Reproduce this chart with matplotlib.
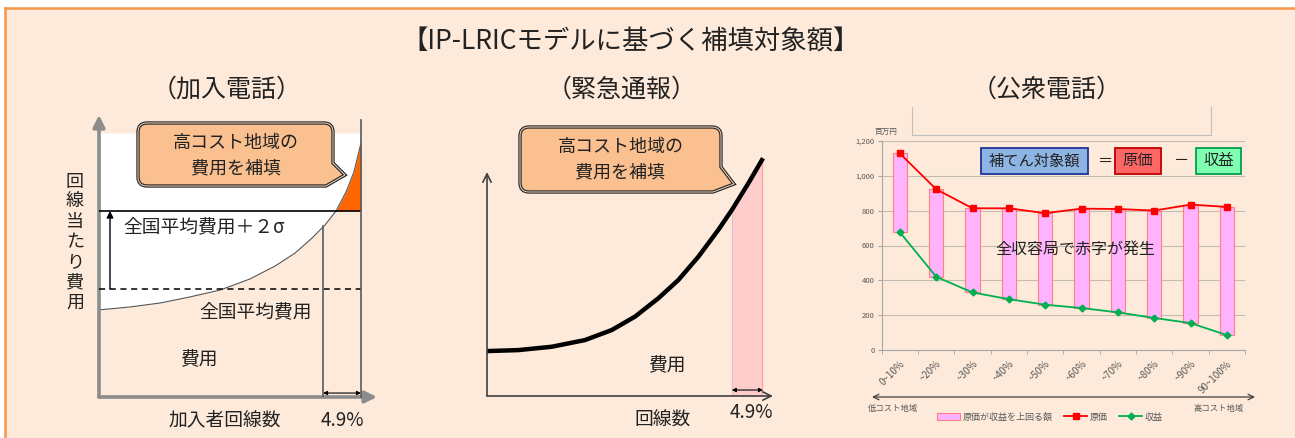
import numpy as np
import matplotlib.pyplot as plt
from matplotlib.patches import Rectangle, PathPatch
from matplotlib.path import Path

plt.rcParams['font.family'] = ['Noto Sans CJK JP', 'DejaVu Sans']

# ---- data -------------------------------------------------------------
# 公衆電話 (百万円)
categories = ['0~10%', '~20%', '~30%', '~40%', '~50%', '~60%', '~70%', '~80%', '~90%', '90~100%']
cost = [1127, 922, 813, 813, 785, 811, 809, 800, 834, 821]
revenue = [676, 421, 331, 293, 261, 242, 217, 185, 156, 87]

# 加入電話 (schematic, share of lines % vs cost index)
sub_share = [0, 11.8, 23.3, 34.7, 46.2, 57.6, 67.2, 74.8, 81.3, 86.3, 90.5, 94.3, 97.3, 100]
sub_cost = [33.0, 34.1, 35.6, 37.9, 40.5, 44.7, 49.6, 54.5, 60.2, 65.2, 70.5, 77.7, 85.2, 96.2]
avg_level = 40.9
sigma_level = 70.5
sub_cut = 85.5
sub_cut_top = 64.7

# 緊急通報 (schematic)
emg_share = [0, 11.3, 23.4, 35.5, 45.2, 53.6, 62.1, 69.3, 76.6, 83.8, 88.7, 94.7, 100]
emg_cost = [18.8, 19.2, 20.6, 23.4, 27.6, 33.2, 40.9, 48.5, 58.3, 69.5, 77.8, 89.0, 99.5]
emg_cut = 88.7

PEACH = '#FDEADA'
ORANGE = '#F79646'
TXT = '#222222'
GRAY = '#595959'

W, H = 1295, 438
fig = plt.figure(figsize=(W / 100, H / 100), dpi=100)
fig.patch.set_facecolor('white')


def pax(x0, y0, x1, y1, z):
    ax = fig.add_axes([x0 / W, 1 - y1 / H, (x1 - x0) / W, (y1 - y0) / H], zorder=z)
    ax.patch.set_visible(False)
    return ax


bg = pax(0, 0, W, H, 0)
bg.set_xlim(0, W)
bg.set_ylim(H, 0)
bg.axis('off')
bg.add_patch(Rectangle((5, 8), W, H, fc=PEACH, ec='none'))
bg.plot([5, 5], [8, H], color=ORANGE, lw=1.8)
bg.plot([5, W], [8, 8], color=ORANGE, lw=1.8)

fg = pax(0, 0, W, H, 10)
fg.set_xlim(0, W)
fg.set_ylim(H, 0)
fg.axis('off')

# titles
fg.text(631, 42, '【IP-LRICモデルに基づく補填対象額】', fontsize=19, ha='center', va='center', color=TXT)
fg.text(227, 90, '（加入電話）', fontsize=18, ha='center', va='center', color=TXT)
fg.text(622, 90, '（緊急通報）', fontsize=18, ha='center', va='center', color=TXT)
fg.text(1047, 90, '（公衆電話）', fontsize=18, ha='center', va='center', color=TXT)


def bubble(x0, y0, x1, y1, ty, tx, tip, r=9):
    M, L, C, Z = Path.MOVETO, Path.LINETO, Path.CURVE3, Path.CLOSEPOLY
    verts = [(x0 + r, y0), (x1 - r, y0), (x1, y0), (x1, y0 + r), (x1, ty), tip, (tx, y1),
             (x0 + r, y1), (x0, y1), (x0, y1 - r), (x0, y0 + r), (x0, y0), (x0 + r, y0), (x0 + r, y0)]
    codes = [M, L, C, C, L, L, L, L, C, C, L, C, C, Z]
    p = Path(verts, codes)
    fg.add_patch(PathPatch(p, fc='#FAC090', ec='#262626', lw=2.4, zorder=5))
    fg.add_patch(PathPatch(p, fc='none', ec='#F6DCC6', lw=0.7, zorder=6))
    cx = (x0 + x1) / 2
    fg.text(cx, y0 + 20, '高コスト地域の', fontsize=13, ha='center', va='center', color=TXT, zorder=7)
    fg.text(cx, y0 + 45, '費用を補填', fontsize=13, ha='center', va='center', color=TXT, zorder=7)


# ---- panel 1: 加入電話 ----------------------------------------------------
a1 = pax(99, 133, 361, 397, 2)
a1.set_xlim(0, 100)
a1.set_ylim(0, 100)
a1.axis('off')
s = np.array(sub_share)
c = np.array(sub_cost)
a1.fill_between(s, c, 100, color='white', lw=0, zorder=1)
hi = s >= 90.5
a1.fill_between(s[hi], sigma_level, c[hi], color='#FF6600', lw=0, zorder=2)
a1.plot(s, c, color='#555555', lw=0.8, zorder=3, solid_joinstyle='round')
a1.plot([0, 100], [sigma_level] * 2, color='black', lw=1.2, zorder=4)
a1.plot([0, 100], [avg_level] * 2, color='black', lw=1.1, ls=(0, (4, 3)), zorder=4)
a1.plot([100, 100], [0, 104.9], color=GRAY, lw=1.2, clip_on=False, zorder=4)
a1.plot([sub_cut] * 2, [0, sub_cut_top], color=GRAY, lw=1.2, zorder=4)
a1.annotate('', xy=(4.2, sigma_level), xytext=(4.2, avg_level),
            arrowprops=dict(arrowstyle='-|>', color='black', lw=1, mutation_scale=10, shrinkA=0, shrinkB=0))
a1.annotate('', xy=(0, 106.8), xytext=(0, 0), annotation_clip=False,
            arrowprops=dict(arrowstyle='-|>,head_width=0.35,head_length=0.7', color='#8C8C8C', lw=2.6,
                            mutation_scale=10, shrinkA=0, shrinkB=0))
a1.annotate('', xy=(106.1, 0), xytext=(0, 0), annotation_clip=False,
            arrowprops=dict(arrowstyle='-|>,head_width=0.35,head_length=0.7', color='#8C8C8C', lw=2.6,
                            mutation_scale=10, shrinkA=0, shrinkB=0))
a1.annotate('', xy=(sub_cut, 1.5), xytext=(100, 1.5),
            arrowprops=dict(arrowstyle='<|-|>', color='black', lw=0.8, mutation_scale=6, shrinkA=0, shrinkB=0))

fg.text(123, 228, '全国平均費用＋２σ', fontsize=13.5, ha='left', va='center', color=TXT)
fg.text(256, 313, '全国平均費用', fontsize=13.5, ha='center', va='center', color=TXT)
fg.text(199, 360, '費用', fontsize=13.5, ha='center', va='center', color=TXT)
fg.text(225, 420, '加入者回線数', fontsize=13.5, ha='center', va='center', color=TXT)
fg.text(342, 420, '4.9%', fontsize=13.5, ha='center', va='center', color=TXT)
for i, ch in enumerate('回線当たり費用'):
    fg.text(75, 182 + i * 20.1, ch, fontsize=13, ha='center', va='center', color=TXT)
bubble(138, 123, 333, 186, 163, 326, (345, 175))

# ---- panel 2: 緊急通報 ----------------------------------------------------
a2 = pax(487, 157, 763, 396, 2)
a2.set_xlim(0, 100)
a2.set_ylim(0, 100)
a2.axis('off')
es = np.array(emg_share)
ec = np.array(emg_cost)
k = es >= emg_cut
a2.fill_between(es[k], 0, ec[k], color='#FFCCCC', lw=0, zorder=1)
a2.plot([emg_cut] * 2, [0, ec[k][0]], color='#D9C3C3', lw=0.8, zorder=2)
a2.plot([100, 100], [0, ec[-1]], color='#FF0000', lw=1, zorder=2)
a2.plot(es, ec, color='black', lw=3.2, solid_capstyle='butt', solid_joinstyle='round', zorder=3, clip_on=False)
a2.annotate('', xy=(0, 93.7), xytext=(0, 0), annotation_clip=False,
            arrowprops=dict(arrowstyle='->,head_width=0.3,head_length=0.6', color='#404040', lw=1.2,
                            mutation_scale=10, shrinkA=0, shrinkB=0))
a2.annotate('', xy=(103.6, 0), xytext=(0, 0), annotation_clip=False,
            arrowprops=dict(arrowstyle='->,head_width=0.3,head_length=0.6', color='#404040', lw=1.2,
                            mutation_scale=10, shrinkA=0, shrinkB=0))
a2.annotate('', xy=(emg_cut, 2.5), xytext=(100, 2.5),
            arrowprops=dict(arrowstyle='<|-|>', color='black', lw=0.8, mutation_scale=6, shrinkA=0, shrinkB=0))
fg.text(667, 366, '費用', fontsize=13.5, ha='center', va='center', color=TXT)
fg.text(663, 420, '回線数', fontsize=13.5, ha='center', va='center', color=TXT)
fg.text(751, 413, '4.9%', fontsize=13.5, ha='center', va='center', color=TXT)
bubble(520, 127, 721, 192, 167, 713, (734, 184))

# ---- panel 3: 公衆電話 ----------------------------------------------------
a3 = pax(881.7, 140.7, 1245, 350.3, 3)
x = np.arange(len(categories))
cst = np.array(cost)
rev = np.array(revenue)
bars = a3.bar(x, cst - rev, bottom=rev, width=0.4, color='#FFB3FF', edgecolor='#FF8080', lw=0.8, zorder=2,
              label='原価が収益を上回る額')
l_cost, = a3.plot(x, cst, color='#FF0000', lw=1.3, marker='s', ms=4.5, zorder=4, label='原価')
l_rev, = a3.plot(x, rev, color='#00B050', lw=1.3, marker='D', ms=3.5, zorder=4, label='収益')
a3.set_xlim(-0.5, 9.5)
a3.set_ylim(0, 1200)
yt = list(range(0, 1201, 200))
a3.set_yticks(yt)
a3.set_yticklabels([f'{v:,}' for v in yt])
a3.grid(axis='y', color='#C4BCB4', lw=0.8)
a3.set_axisbelow(True)
for sp in ['top', 'right']:
    a3.spines[sp].set_visible(False)
for sp in ['left', 'bottom']:
    a3.spines[sp].set_color('#A6A6A6')
a3.tick_params(axis='y', length=3, color='#A6A6A6', labelsize=5.5, labelcolor=GRAY, pad=2)
a3.set_xticks(x)
a3.set_xticklabels(categories, rotation=45, ha='right', va='top', rotation_mode='anchor',
                   fontsize=7, color=GRAY)
a3.tick_params(axis='x', which='major', length=0, pad=6)
a3.set_xticks(np.arange(-0.5, 10, 1), minor=True)
a3.tick_params(axis='x', which='minor', length=3, color='#A6A6A6')
a3.legend([bars, l_cost, l_rev], ['原価が収益を上回る額', '原価', '収益'],
          loc='center', bbox_to_anchor=(1050 / W, 1 - 417 / H), bbox_transform=fig.transFigure,
          ncol=3, frameon=False, fontsize=6.5, handlelength=2.6, handletextpad=0.3,
          columnspacing=1.2, labelcolor=GRAY)

fg.text(886, 132, '百万円', fontsize=5.5, ha='center', va='center', color=GRAY)
fg.plot([912, 912, 1211, 1211], [106.7, 135, 135, 106.7], color='#BFBFBF', lw=0.8)
fg.annotate('', xy=(872, 397), xytext=(1255, 397),
            arrowprops=dict(arrowstyle='<->', color='#404040', lw=0.9, shrinkA=0, shrinkB=0))
fg.text(893, 408, '低コスト地域', fontsize=6, ha='center', va='center', color=GRAY)
fg.text(1219, 408, '高コスト地域', fontsize=6, ha='center', va='center', color=GRAY)

# in-chart formula boxes
fg.add_patch(Rectangle((981, 148.3), 106.7, 25.7, fc='#8DB4E2', ec='#1F3399', lw=1.3, zorder=5))
fg.add_patch(Rectangle((1115, 148.3), 46, 25.7, fc='#FF6666', ec='#C00000', lw=1.3, zorder=5))
fg.add_patch(Rectangle((1195.7, 148.3), 45.3, 25.7, fc='#80FFB0', ec='#00A050', lw=1.3, zorder=5))
fg.text(1034, 161, '補てん対象額', fontsize=11, ha='center', va='center', color=TXT, zorder=6)
fg.text(1138, 161, '原価', fontsize=11, ha='center', va='center', color=TXT, zorder=6)
fg.text(1218.4, 161, '収益', fontsize=11, ha='center', va='center', color=TXT, zorder=6)
fg.text(1106, 161, '＝', fontsize=11, ha='center', va='center', color=TXT, zorder=6)
fg.text(1181, 161, '－', fontsize=11, ha='center', va='center', color=TXT, zorder=6)
fg.text(1075, 249, '全収容局で赤字が発生', fontsize=11.5, ha='center', va='center', color=TXT, zorder=6)

fig.savefig('out.png', dpi=100)
